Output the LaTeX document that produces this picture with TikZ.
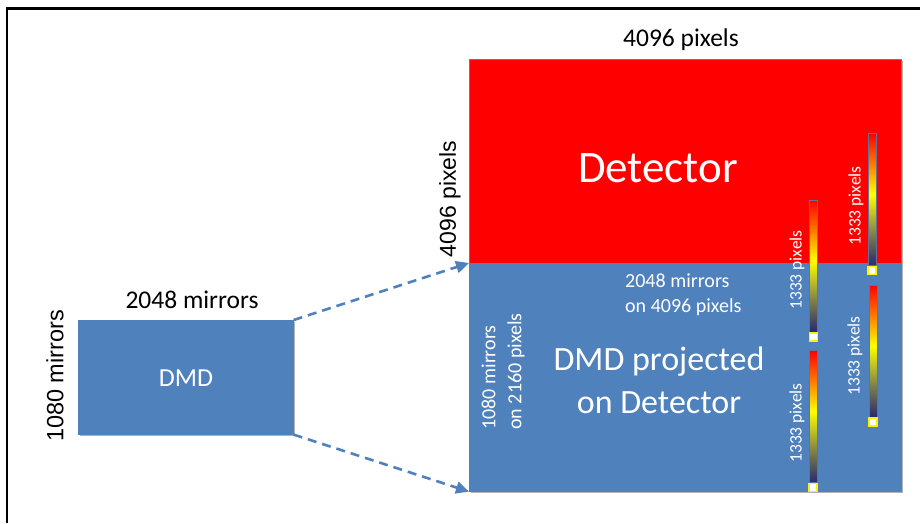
\documentclass[tikz,border=0pt]{standalone}
\usepackage{fontspec}
\setmainfont{Carlito}
\newfontfamily\arialf{Liberation Sans}
\usetikzlibrary{arrows.meta,shadows}
\definecolor{dmdblue}{RGB}{79,129,189}
\definecolor{navyb}{RGB}{40,40,112}
\definecolor{oliveb}{RGB}{128,128,72}
\definecolor{orangeb}{RGB}{255,128,0}
\definecolor{barline}{RGB}{95,115,155}
\pgfdeclareverticalshading{barshade}{100bp}{color(0bp)=(navyb); color(25bp)=(navyb); color(37bp)=(oliveb); color(52bp)=(yellow); color(63bp)=(orangeb); color(75bp)=(red); color(100bp)=(red)}
\tikzset{
  box/.style={rectangle, inner sep=0pt, draw=dmdblue, line width=0.6pt,
    drop shadow={shadow xshift=1.8pt, shadow yshift=-1.8pt, opacity=0.3, fill=black}},
  gbar/.style={rectangle, inner sep=0pt, minimum width=8pt, minimum height=132pt,
    shading=barshade, draw=barline, line width=0.5pt},
  sq/.style={rectangle, inner sep=0pt, minimum width=8pt, minimum height=8pt,
    fill=white, draw=yellow, line width=1.4pt},
  barlbl/.style={rotate=90, text=white, font=\fontsize{17.5}{20}\selectfont, inner sep=0pt},
  dasharrow/.style={draw=dmdblue, line width=2.6pt, dash pattern=on 9pt off 6pt,
    -{Triangle[length=13pt,width=12pt]}},
}
\begin{document}
\begin{tikzpicture}[x=1pt,y=-1pt]
\useasboundingbox (0,0) rectangle (920,523);
% frame
\draw[line width=2.6pt] (7,523) -- (7,8.5) -- (921,8.5);
% boxes
\node[box, fill=red, minimum width=432pt, minimum height=204pt, anchor=north west] (det) at (469,59) {};
\node[box, fill=dmdblue, minimum width=432pt, minimum height=228pt, anchor=north west] (proj) at (469,263) {};
\node[box, fill=dmdblue, minimum width=215pt, minimum height=114pt, anchor=north west] (dmd) at (78,320) {};
% texts
\node[font=\fontsize{25.5}{30}\selectfont] (toplbl) at (681,40) {4096 pixels};
\node[rotate=90, font=\arialf\fontsize{23}{28}\selectfont] (sidelbl) at (450,199) {4096 pixels};
\node[font=\fontsize{25.5}{30}\selectfont] (dmdw) at (192,300) {2048 mirrors};
\node[rotate=90, font=\arialf\fontsize{23.5}{28}\selectfont] (dmdh) at (55,376) {1080 mirrors};
\node[text=white, font=\fontsize{26}{30}\selectfont] (dmdtxt) at (186,378) {DMD};
\node[text=white, font=\fontsize{45}{50}\selectfont] (dettxt) at (658,168) {Detector};
\node[text=white, align=left, anchor=west, inner sep=0pt, font=\fontsize{20}{25}\selectfont] (projw) at (625,294.5)
  {2048 mirrors\\on 4096 pixels};
\node[text=white, align=left, rotate=90, inner sep=0pt, font=\fontsize{20}{26}\selectfont] (projh) at (503,371.5)
  {1080 mirrors\\on 2160 pixels};
\node[text=white, align=center, font=\fontsize{34}{43}\selectfont] (projtxt) at (659,380)
  {DMD projected\\on Detector};
% arrows
\draw[dasharrow] (dmd.north east) -- (proj.north west);
\draw[dasharrow] (dmd.south east) -- (proj.south west);
% gradient bars
\node[gbar] (barA) at (813.5,266) {};
\node[sq, anchor=north] (sqA) at (barA.south) {};
\node[gbar] (barB) at (872,199.5) {};
\node[sq, anchor=north] (sqB) at (barB.south) {};
\node[gbar] (barC) at (873,351) {};
\node[sq, anchor=north] (sqC) at (barC.south) {};
\node[gbar] (barD) at (813,416.5) {};
\node[sq, anchor=north] (sqD) at (barD.south) {};
% bar labels
\node[barlbl] (lblA) at (797,270) {1333 pixels};
\node[barlbl] (lblB) at (856,206) {1333 pixels};
\node[barlbl] (lblC) at (855,356) {1333 pixels};
\node[barlbl] (lblD) at (797,423) {1333 pixels};
\end{tikzpicture}
\end{document}
